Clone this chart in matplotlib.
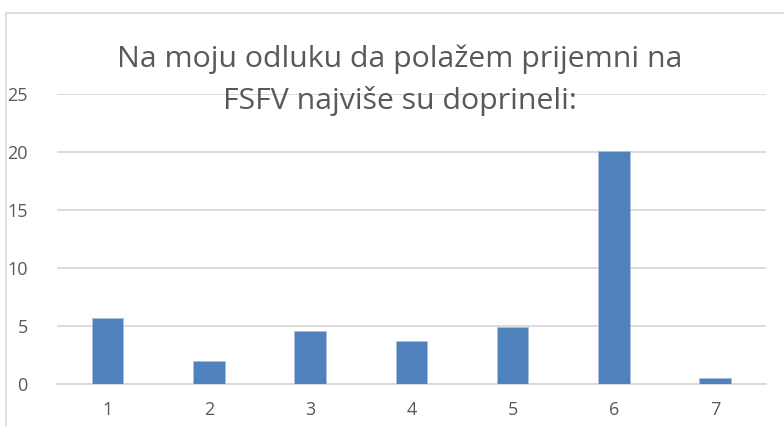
import matplotlib.pyplot as plt
from matplotlib.patches import Rectangle

plt.rcParams['font.family'] = ['Open Sans', 'DejaVu Sans']

categories = ['1', '2', '3', '4', '5', '6', '7']
values = [5.7, 2.0, 4.55, 3.7, 4.9, 20.08, 0.49]
y_ticks = [0, 5, 10, 15, 20, 25]
the_title = 'Na moju odluku da polažem prijemni na\nFSFV najviše su doprineli:'

fig = plt.figure(figsize=(7.84, 4.26), dpi=100)
ax = fig.add_axes([0.0727, 0.0986, 0.904, 0.680])

x = range(len(categories))
ax.bar(x, values, width=0.31, color='#4F81BD', edgecolor='#A9C0DD', linewidth=0.6, zorder=3)

ax.set_xlim(-0.5, len(categories) - 0.5)
ax.set_ylim(0, 25)
ax.set_yticks(y_ticks)
ax.set_xticks(list(x))
ax.set_xticklabels(categories)
ax.grid(axis='y', color='#D9D9D9', linewidth=1.3, zorder=0)
ax.set_axisbelow(True)
for s in ['top', 'right', 'left']:
    ax.spines[s].set_visible(False)
ax.spines['bottom'].set_color('#D9D9D9')
ax.spines['bottom'].set_linewidth(1.3)
ax.tick_params(axis='both', length=0, colors='#595959', labelsize=13)
ax.tick_params(axis='x', pad=12)
ax.tick_params(axis='y', pad=21)

fig.text(0.51, 0.812, the_title, ha='center', va='center', fontsize=21.8,
         color='#595959', linespacing=1.55, zorder=5)

# outer chart border like the excel frame
fig.patches.append(Rectangle((0.008, -0.1), 1.2, 1.07, transform=fig.transFigure,
                             fill=False, edgecolor='#D9D9D9', linewidth=1.2))

fig.savefig('out.png', dpi=100)
